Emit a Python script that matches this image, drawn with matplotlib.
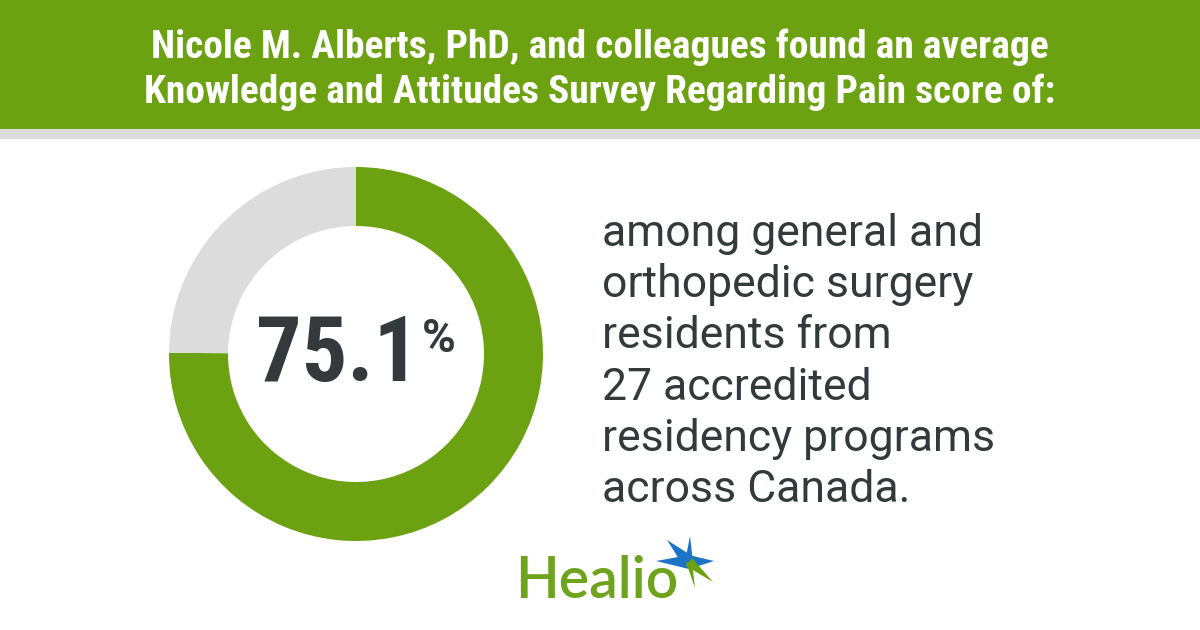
import matplotlib
matplotlib.use("Agg")
import matplotlib.pyplot as plt
from matplotlib import font_manager as fm
from matplotlib.patches import Rectangle, Polygon
import numpy as np

# ---- data ----
score = 75.1
segments = [score, 100 - score]
segment_colors = ["#6ca211", "#dcdcdc"]
header_lines = [
    "Nicole M. Alberts, PhD, and colleagues found an average",
    "Knowledge and Attitudes Survey Regarding Pain score of:",
]
body_lines = [
    "among general and",
    "orthopedic surgery",
    "residents from",
    "27 accredited",
    "residency programs",
    "across Canada.",
]

GREEN = "#6ca211"
DARK = "#343a3c"
W, H = 1200, 630

names = {f.name for f in fm.fontManager.ttflist}
cond = next((n for n in ["Roboto Condensed", "Liberation Sans Narrow", "Open Sans Condensed"] if n in names), None)
head_family = [cond or "Roboto", "DejaVu Sans"]

fig = plt.figure(figsize=(W / 100, H / 100), dpi=100)
fig.patch.set_facecolor("white")

bg = fig.add_axes([0, 0, 1, 1])
bg.set_xlim(0, W)
bg.set_ylim(H, 0)
bg.axis("off")

bg.add_patch(Rectangle((0, 0), W, 129, color=GREEN, lw=0))
bg.add_patch(Rectangle((0, 129), W, 10, color="#dcdcdc", lw=0))

renderer = fig.canvas.get_renderer()
base_fs = 25
t_objs = []
for y, line in zip([58, 103], header_lines):
    t = bg.text(600, y, line, ha="center", va="baseline", color="white",
                fontsize=base_fs, fontweight="bold", family=head_family)
    t_objs.append(t)
w2 = t_objs[1].get_window_extent(renderer).width
scale = 912 / w2
for t in t_objs:
    t.set_fontsize(base_fs * scale)

# donut
cx, cy, R = 356, 354, 187
ax = fig.add_axes([(cx - R) / W, (H - cy - R) / H, 2 * R / W, 2 * R / H])
ax.pie(segments, colors=segment_colors, startangle=90, counterclock=False,
       radius=1.0, wedgeprops=dict(width=59 / R, linewidth=0))
ax.set_xlim(-1, 1)
ax.set_ylim(-1, 1)
ax.axis("off")

bg.text(419, 381, f"{score:.1f}", ha="right", va="baseline", color=DARK,
        fontsize=65, fontweight="bold", family=head_family)
bg.text(422, 317, "%", ha="left", va="top", color=DARK,
        fontsize=33, fontweight="bold", family=["Roboto", "DejaVu Sans"])

for i, line in enumerate(body_lines):
    bg.text(602, 246 + i * 51.2, line, ha="left", va="baseline", color=DARK,
            fontsize=32, family=["Roboto", "DejaVu Sans"])

# Healio logo
bg.text(515, 598, "Healio", ha="left", va="baseline", color="#6ea31d",
        fontsize=41, fontweight="semibold", family=["Lato", "DejaVu Sans"])
c = (689, 562)
blue = "#1d74c6"
rays_blue = [((656, 561), 7), ((667, 540), 7), ((714, 561), 7), ((690, 536), 4)]
rays_green = [((713, 582), 5), ((695, 588), 3)]

def kite(tip, half, col):
    v = np.array(tip) - np.array(c)
    n = np.array([-v[1], v[0]]) / np.hypot(*v)
    b1 = np.array(c) + n * half
    b2 = np.array(c) - n * half
    bg.add_patch(Polygon([tuple(b1), tip, tuple(b2)], closed=True, color=col, lw=0))

for tip, h in rays_blue:
    kite(tip, h, blue)
for tip, h in rays_green:
    kite(tip, h, GREEN)

fig.savefig("out.png", dpi=100, facecolor="white")
